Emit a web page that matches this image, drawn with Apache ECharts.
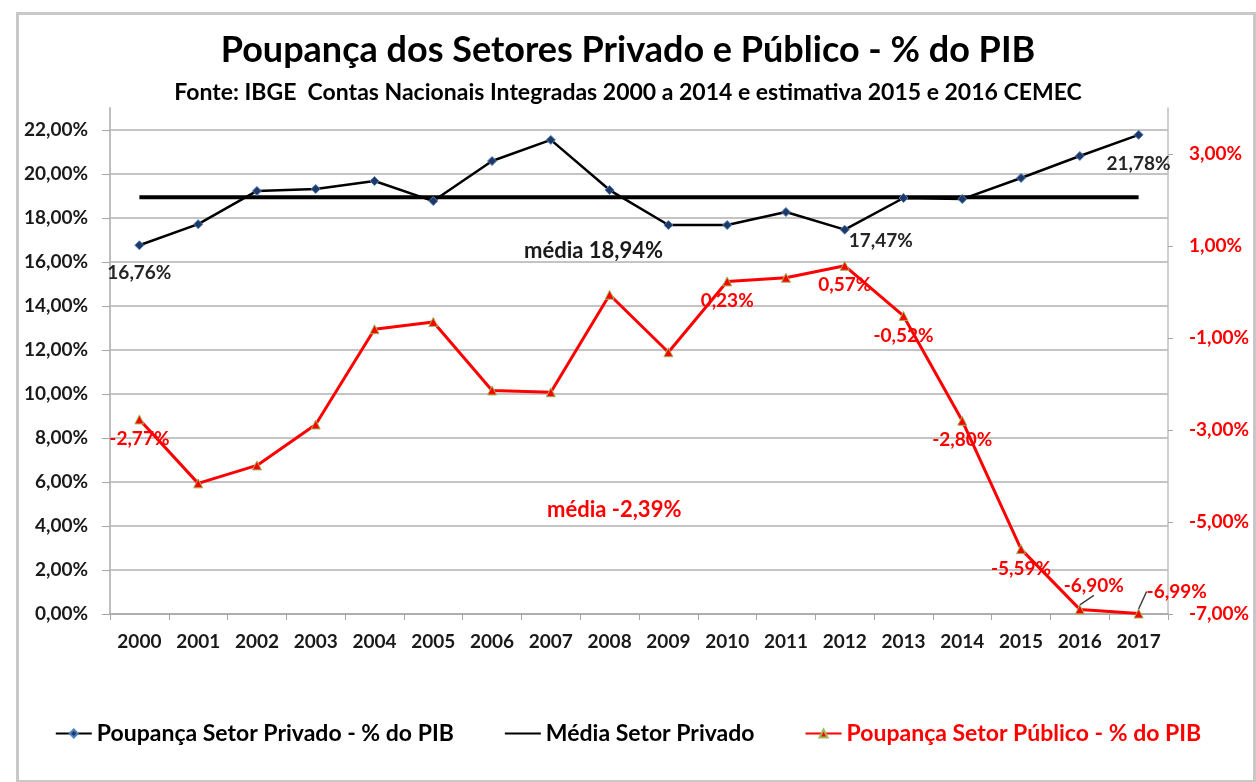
<!DOCTYPE html>
<html>
<head>
<meta charset="utf-8">
<script src="https://cdn.jsdelivr.net/npm/echarts@6/dist/echarts.min.js"></script>
<style>
  html, body { margin: 0; padding: 0; background: #fff; }
  #main { width: 1256px; height: 782px; }
</style>
</head>
<body>
<div id="main"></div>
<script>
// data
const years = ["2000","2001","2002","2003","2004","2005","2006","2007","2008",
  "2009","2010","2011","2012","2013","2014","2015","2016","2017"];
const privado = [16.76, 17.72, 19.23, 19.32, 19.68, 18.77, 20.59, 21.55, 19.27,
  17.68, 17.68, 18.27, 17.47, 18.91, 18.86, 19.82, 20.82, 21.78];
const publico = [-2.77, -4.16, -3.77, -2.88, -0.81, -0.65, -2.14, -2.18, -0.06,
  -1.31, 0.23, 0.31, 0.57, -0.52, -2.80, -5.59, -6.90, -6.99];
const mediaPrivado = 18.94;
const mediaPublico = -2.39;
const leftTicks = [0, 2, 4, 6, 8, 10, 12, 14, 16, 18, 20, 22];
const rightTicks = [-7, -5, -3, -1, 1, 3];

const FONT = "Lato";
const pct = v => v.toFixed(2).replace(".", ",") + "%";

// which points carry a value label, and where it sits
const privLabels = {
  0: { position: "bottom", offset: [0, 8] },
  12: { position: "right", offset: [-6, 11] },
  17: { position: "bottom", offset: [0, 10] }
};
const pubLabels = {
  0: { position: "bottom", offset: [0, 8] },
  10: { position: "bottom", offset: [-2, 8] },
  12: { position: "bottom", offset: [-4, 8] },
  13: { position: "bottom", offset: [-3, 8] },
  14: { position: "bottom", offset: [0, 8] },
  15: { position: "bottom", offset: [-4, 7] },
  16: { position: "top", offset: [0, 0] },
  17: { position: "right", offset: [0, 0] }
};
// labels pulled away from their point, with a leader line
const pubMoved = { 16: [14, -4], 17: [-2, -22] };

let myChart = echarts.init(document.getElementById("main"));

const privData = privado.map((v, i) => {
  const l = privLabels[i];
  if (!l) return v;
  return { value: v, label: Object.assign({ show: true }, l) };
});
const pubData = publico.map((v, i) => {
  const l = pubLabels[i];
  if (!l) return v;
  const item = { value: v, label: Object.assign({ show: true }, l) };
  if (pubMoved[i]) item.labelLine = { show: true };
  return item;
});

const labelFont = { fontFamily: FONT, fontSize: 19, fontWeight: "bold" };

let options = {
  animation: false,
  backgroundColor: "#fff",
  textStyle: { fontFamily: FONT },
  title: [
    {
      text: "Poupança dos Setores Privado e Público - % do PIB",
      left: "center", top: 27,
      textStyle: { fontFamily: FONT, fontSize: 36, fontWeight: "bold", color: "#000" }
    },
    {
      text: "Fonte: IBGE  Contas Nacionais Integradas 2000 a 2014 e estimativa 2015 e 2016 CEMEC",
      left: "center", top: 76,
      textStyle: { fontFamily: FONT, fontSize: 23, fontWeight: "bold", color: "#000" }
    }
  ],
  grid: { left: 110, right: 88, top: 108, bottom: 168 },
  legend: {
    left: "center", top: 717,
    itemGap: 50, itemWidth: 36, itemHeight: 10,
    textStyle: { fontFamily: FONT, fontSize: 23, fontWeight: "bold", color: "#000" },
    data: [
      { name: "Poupança Setor Privado - % do PIB" },
      { name: "Média Setor Privado" },
      { name: "Poupança Setor Público - % do PIB", textStyle: { color: "#ff0000" } }
    ]
  },
  xAxis: {
    type: "category",
    data: years,
    boundaryGap: true,
    axisLine: { lineStyle: { color: "#a6a6a6", width: 1.5 } },
    axisTick: { show: true, length: 6, lineStyle: { color: "#a6a6a6" } },
    axisLabel: Object.assign({ color: "#1a1a1a", margin: 18 }, labelFont)
  },
  yAxis: [
    {
      type: "value", min: 0, max: 23, interval: 2,
      axisLine: { show: true, lineStyle: { color: "#bfbfbf", width: 2 } },
      axisTick: { show: true, length: 8, lineStyle: { color: "#a6a6a6" }, customValues: leftTicks },
      axisLabel: Object.assign({
        color: "#1a1a1a", margin: 22, customValues: leftTicks, formatter: pct
      }, labelFont),
      splitLine: { show: true, lineStyle: { color: "#c4c4c4", width: 2 } }
    },
    {
      type: "value", min: -7, max: 4,
      axisLine: { show: true, lineStyle: { color: "#bfbfbf", width: 1.5 } },
      axisTick: { show: true, length: 5, lineStyle: { color: "#a6a6a6" }, customValues: rightTicks },
      axisLabel: Object.assign({
        color: "#ff0000", margin: 21, customValues: rightTicks, formatter: pct
      }, labelFont),
      splitLine: { show: false }
    }
  ],
  series: [
    {
      name: "Poupança Setor Privado - % do PIB",
      type: "line",
      yAxisIndex: 0,
      data: privData,
      symbol: "diamond", symbolSize: 9,
      itemStyle: { color: "#1f3864", borderColor: "#4f81bd", borderWidth: 1 },
      lineStyle: { color: "#000", width: 2.5 },
      label: Object.assign({ show: false, formatter: p => pct(p.value), color: "#262626" }, labelFont),
      z: 4
    },
    {
      name: "Média Setor Privado",
      type: "line",
      yAxisIndex: 0,
      data: years.map(() => mediaPrivado),
      symbol: "circle", showSymbol: false,
      lineStyle: { color: "#000", width: 4 },
      itemStyle: { color: "#000", opacity: 0 },
      z: 3
    },
    {
      name: "Poupança Setor Público - % do PIB",
      type: "line",
      yAxisIndex: 1,
      data: pubData,
      symbol: "triangle", symbolSize: 9,
      itemStyle: { color: "#ff0000", borderColor: "#9bbb59", borderWidth: 1 },
      lineStyle: { color: "#ff0000", width: 3 },
      label: Object.assign({ show: false, formatter: p => pct(p.value), color: "#ff0000" }, labelFont),
      labelLine: { show: false, lineStyle: { color: "#404040", width: 1.5 } },
      labelLayout: p => {
        const m = pubMoved[p.dataIndex];
        return m ? { dx: m[0], dy: m[1] } : {};
      },
      z: 5
    }
  ],
  graphic: [
    {
      type: "rect", left: 15, top: 11, z: -10, silent: true,
      shape: { width: 1237, height: 768 },
      style: { fill: "none", stroke: "#c8c8c8", lineWidth: 3 }
    },
    {
      type: "text", left: 524, top: 240,
      style: {
        text: "média " + pct(mediaPrivado), fill: "#1a1a1a",
        font: "bold 22px " + FONT
      }
    },
    {
      type: "text", left: 547, top: 499,
      style: {
        text: "média " + pct(mediaPublico), fill: "#ff0000",
        font: "bold 22px " + FONT
      }
    }
  ]
};

myChart.setOption(options);
</script>
</body>
</html>
